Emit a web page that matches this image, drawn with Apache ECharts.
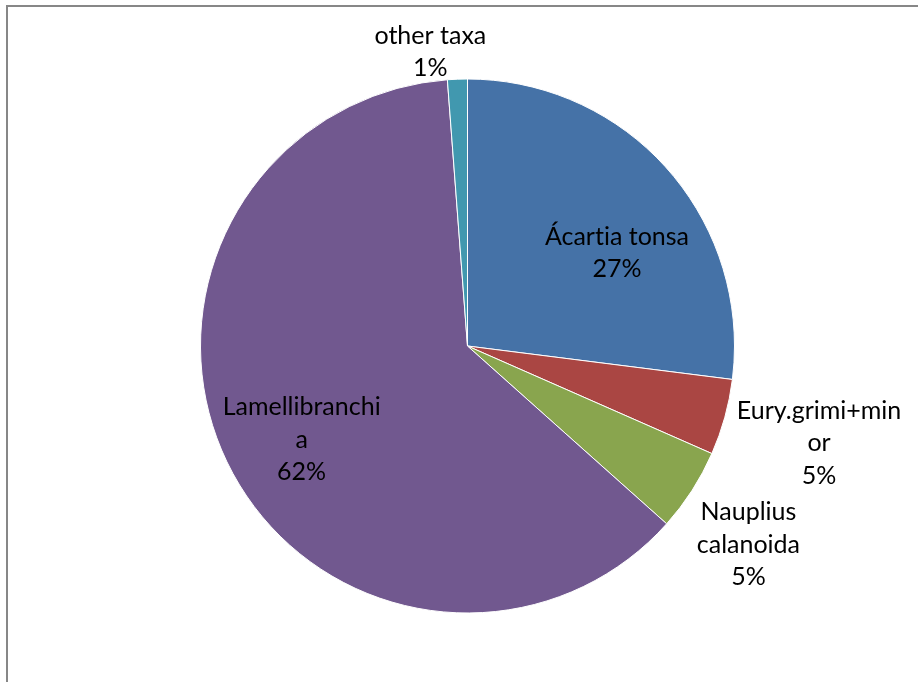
<!DOCTYPE html>
<html>
<head>
<meta charset="utf-8">
<script src="https://cdn.jsdelivr.net/npm/echarts@6/dist/echarts.min.js"></script>
<style>
  html, body { margin: 0; padding: 0; background: #ffffff; }
  #chart { width: 918px; height: 682px; }
</style>
</head>
<body>
<div id="chart"></div>
<script>
// Zooplankton composition (share of total abundance)
const categories = ['Ácartia tonsa', 'Eury.grimi+minor', 'Nauplius calanoida', 'Lamellibranchia', 'other taxa'];
// wrapped label text
const labelLines = ['Ácartia tonsa', 'Eury.grimi+min\nor', 'Nauplius\ncalanoida', 'Lamellibranchi\na', 'other taxa'];
const values = [27.0, 4.6, 5.0, 62.2, 1.2];
const colors = ['#4572A7', '#AA4643', '#89A54E', '#71588F', '#4198AF'];

// label placement: radius as a fraction of the pie radius, and angular shift (deg) from slice middle
const labelRadius = [0.648, 1.355, 1.277, 0.702, 1.098];
const labelShift = [9.7, 0.0, 2.5, -3.2, -5.1];

const R = 267;
const total = values.reduce((a, b) => a + b, 0);
const midAngles = [];
let acc = 0;
values.forEach(v => {
  midAngles.push(((acc + v / 2) / total) * 2 * Math.PI);
  acc += v;
});

// draw "t" and a following "i" as separate runs so no ligature is formed
function richLine(s) {
  return '{t|' + s.replace(/t(?=i)/g, 't}{t|') + '}';
}

const textStyle = {
  color: '#000000',
  fontFamily: 'Lato',
  fontSize: 25,
  lineHeight: 32.5
};

const chart = echarts.init(document.getElementById('chart'), null, { renderer: 'canvas' });

chart.setOption({
  animation: false,
  backgroundColor: '#ffffff',
  graphic: [{
    type: 'rect',
    shape: { x: 7, y: 6, width: 1000, height: 1000 },
    style: { fill: 'none', stroke: '#878787', lineWidth: 2 },
    silent: true
  }],
  series: [{
    type: 'pie',
    center: [467.5, 346],
    radius: [0, R],
    startAngle: 90,
    clockwise: true,
    avoidLabelOverlap: false,
    data: categories.map((c, i) => ({
      name: c,
      value: values[i],
      itemStyle: { color: colors[i] }
    })),
    itemStyle: { borderColor: '#ffffff', borderWidth: 1 },
    label: Object.assign({
      show: true,
      position: 'inside',
      align: 'center',
      rich: { t: Object.assign({}, textStyle) },
      formatter: p => (labelLines[p.dataIndex] + '\n' + Math.round(p.percent) + '%')
        .split('\n').map(richLine).join('\n')
    }, textStyle),
    labelLine: { show: false },
    labelLayout: p => {
      const i = p.dataIndex;
      const a = midAngles[i];
      const b = a + labelShift[i] * Math.PI / 180;
      const r = labelRadius[i] * R;
      return {
        dx: r * Math.sin(b) - 0.5 * R * Math.sin(a),
        dy: -r * Math.cos(b) + 0.5 * R * Math.cos(a)
      };
    },
    emphasis: { disabled: true }
  }]
});
</script>
</body>
</html>
